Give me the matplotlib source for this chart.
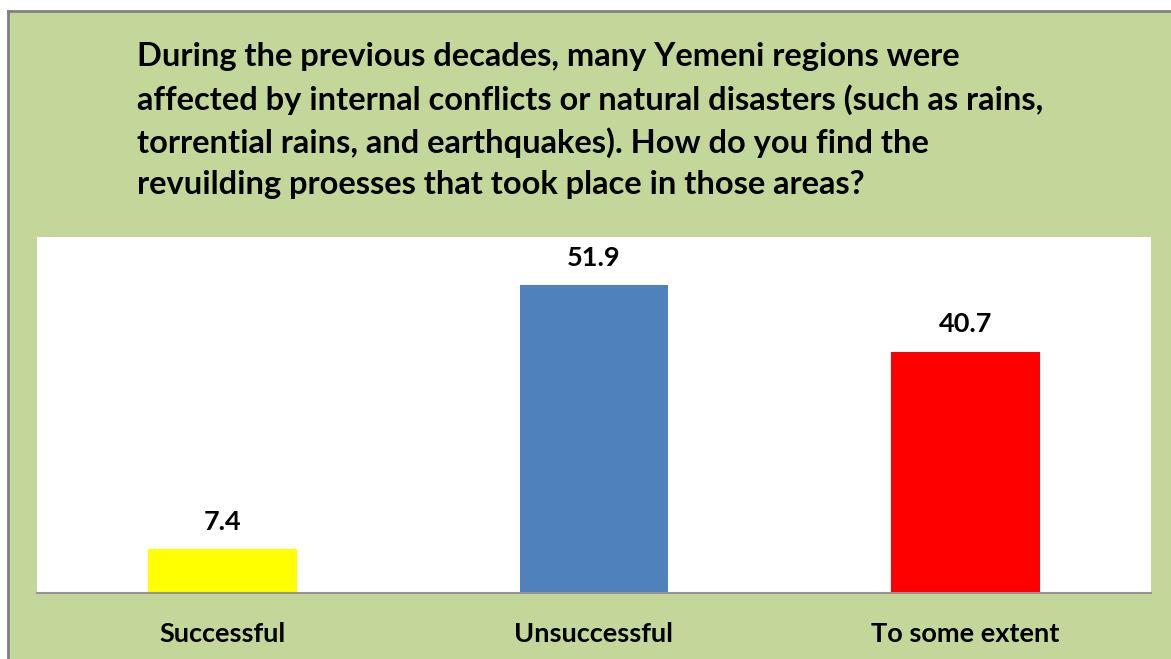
import matplotlib.pyplot as plt
from matplotlib.patches import Rectangle

categories = ["Successful", "Unsuccessful", "To some extent"]
values = [7.4, 51.9, 40.7]
colors = ["#FFFF00", "#4F81BD", "#FF0000"]
title = ("During the previous decades, many Yemeni regions were\n"
         "affected by internal conflicts or natural disasters (such as rains,\n"
         "torrential rains, and earthquakes). How do you find the\n"
         "revuilding proesses that took place in those areas?")

plt.rcParams['font.family'] = ['Lato', 'DejaVu Sans']

W, H = 1171, 659
fig = plt.figure(figsize=(W / 100, H / 100), dpi=100)
fig.patch.set_facecolor("white")

# green chart area with grey border (left and top)
bg = Rectangle((8 / W, 0), 1 - 8 / W, 1 - 11 / H, transform=fig.transFigure,
               facecolor="#C4D79B", edgecolor="none", zorder=-10)
fig.patches.append(bg)
fig.add_artist(plt.Line2D([8 / W, 8 / W], [0, 1 - 11 / H], color="#808080", lw=2,
                          transform=fig.transFigure, zorder=-5))
fig.add_artist(plt.Line2D([8 / W, 1], [1 - 11 / H, 1 - 11 / H], color="#808080", lw=2,
                          transform=fig.transFigure, zorder=-5))

ax = fig.add_axes([37 / W, (H - 593) / H, (1151 - 37) / W, (593 - 237) / H])
ax.set_zorder(5)
ax.set_facecolor("white")
x = range(len(categories))
ax.bar(x, values, width=0.4, color=colors)
ax.set_xlim(-0.5, 2.5)
ax.set_ylim(0, 60)
ax.set_yticks([])
ax.set_xticks(list(x))
ax.set_xticklabels(categories, fontsize=19.5, fontweight="bold")
ax.tick_params(axis="x", length=0, pad=21)
for s in ["top", "left", "right"]:
    ax.spines[s].set_visible(False)
ax.spines["bottom"].set_color("#969696")
ax.spines["bottom"].set_linewidth(1.5)

for xi, v in zip(x, values):
    ax.annotate(f"{v}", (xi, v), xytext=(0, 11), textcoords="offset points",
                ha="center", va="bottom", fontsize=19.5, fontweight="bold")

fig.text(137 / W, 1 - 42 / H, title, ha="left", va="top", fontsize=23.5,
         fontweight="bold", linespacing=1.5)

fig.savefig("out.png", dpi=100)
